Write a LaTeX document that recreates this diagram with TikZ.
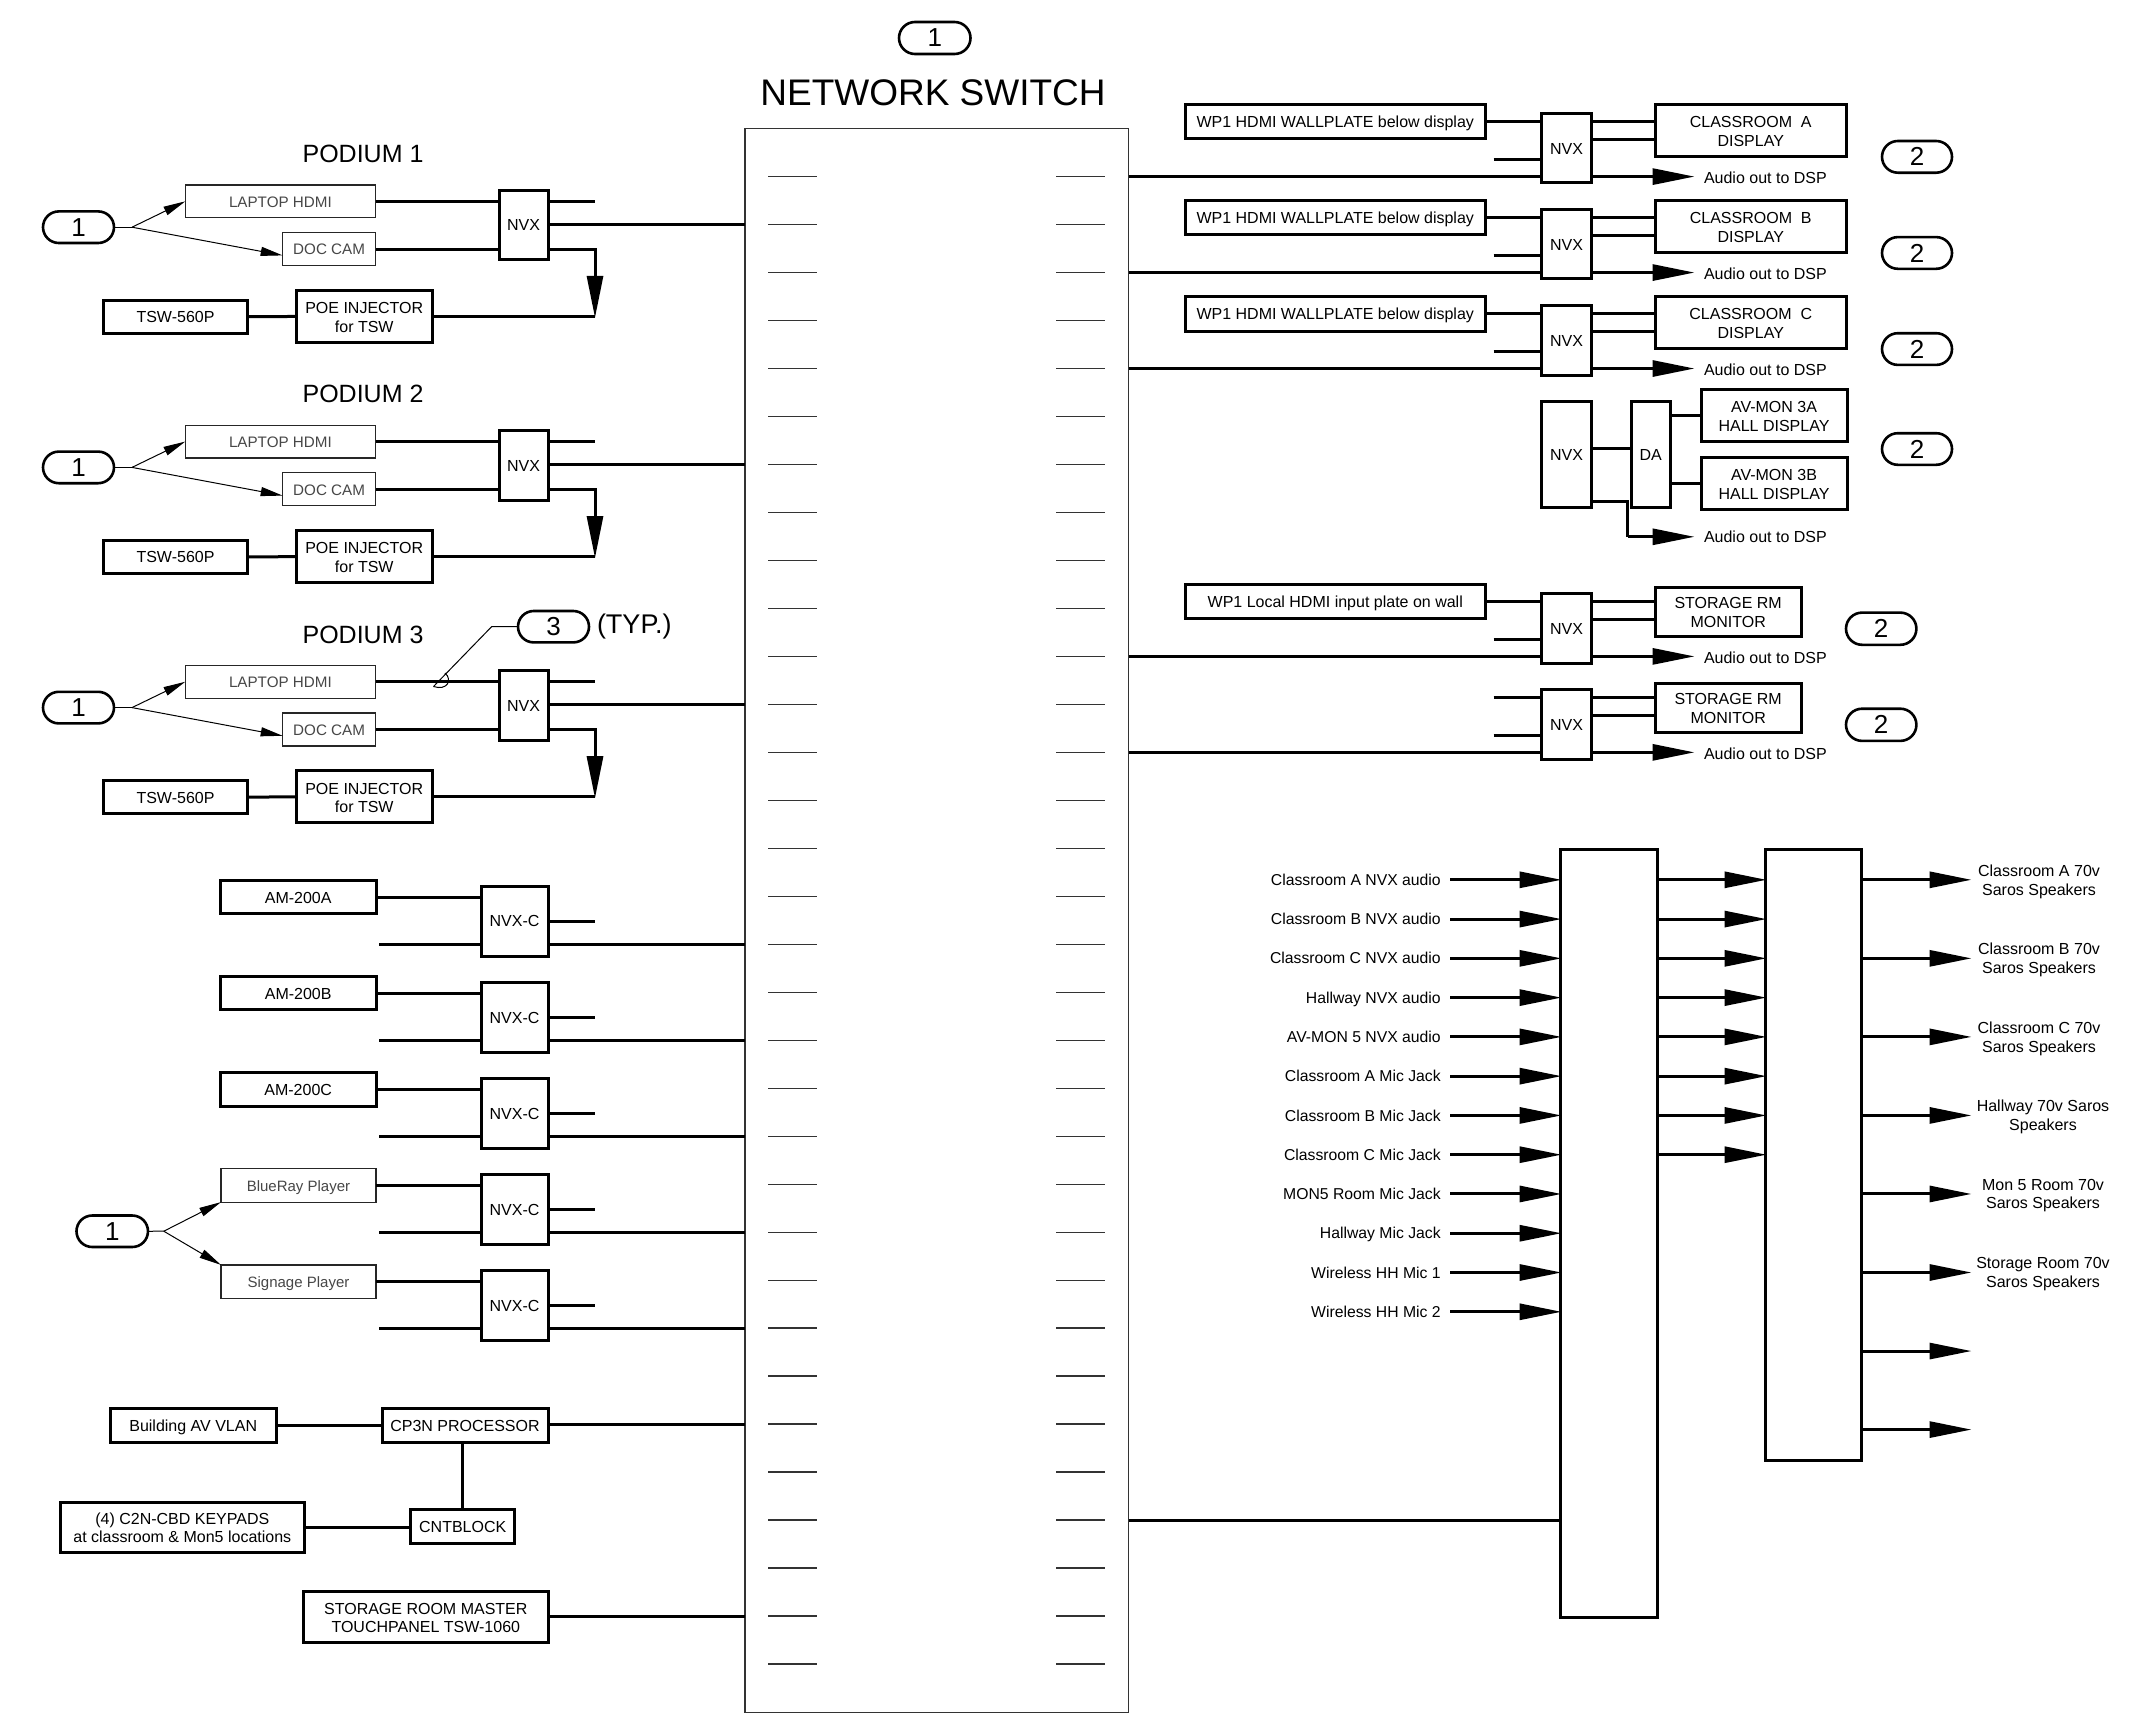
\documentclass[tikz,border=0pt]{standalone}
\usepackage{fontspec}
\setmainfont{Liberation Sans}
\usetikzlibrary{arrows.meta,shapes.misc}
\newcommand{\fs}[1]{\fontsize{#1}{#1}\selectfont}
\newcommand{\strutone}{\rule[-3.5pt]{0pt}{18.8pt}}
\newcommand{\struttwo}{\rule{0pt}{13pt}}
\newcommand{\bx}[7]{%
 \pgfmathsetmacro\cx{(#3+#5)/2}\pgfmathsetmacro\cy{(#4+#6)/2}%
 \pgfmathsetmacro\ww{#5-(#3)}\pgfmathsetmacro\hh{#6-(#4)}%
 \node[#1,minimum width=\ww pt,minimum height=\hh pt] (#2) at (\cx,\cy) {#7};}
\tikzset{
 basebox/.style={inner sep=0pt,outer sep=0pt,align=center,font=\fs{16}},
 hbox/.style={basebox,draw,line width=3pt},
 mbox/.style={basebox,draw,line width=3pt},
 lbox/.style={basebox,draw=black!85,line width=1.2pt,text=black!72,font=\fs{15.2}},
 tagpill/.style={basebox,draw,rounded rectangle,line width=2.6pt,font=\fs{26}},
 wire/.style={line width=3pt},
 mwire/.style={line width=3pt},
 hair/.style={line width=1pt},
 bighead/.style={-{Triangle[length=42pt,width=16pt]},shorten >=-1.5pt},
 smallhead/.style={-{Triangle[length=22pt,width=9pt]}},
 txt/.style={inner sep=0pt,outer sep=0pt,align=center,font=\fs{16}},
 headtxt/.style={inner sep=0pt,outer sep=0pt,font=\fs{25}},
}
\begin{document}
\begin{tikzpicture}[x=1pt,y=-1pt]
\useasboundingbox (0,0) rectangle (2139,1729);
\fill[white] (0,0) rectangle (2139,1729);
% switch
\bx{basebox,draw=black!80,line width=1.6pt}{sw}{744.7}{128.5}{1128.6}{1712.5}{}
\bx{tagpill}{tagtop}{899}{22}{970.5}{54}{1}
\node[headtxt,font=\fs{37}] (swtitle) at (933,93) {NETWORK SWITCH};
\foreach \n in {0,...,31}{
 \pgfmathsetmacro\yy{176.6+47.98*\n}
 \coordinate (L\n) at (744.7,\yy);
 \coordinate (R\n) at (1128.6,\yy);
 \coordinate (la\n) at (768.3,\yy);
 \coordinate (lb\n) at (817,\yy);
 \coordinate (ra\n) at (1056,\yy);
 \coordinate (rb\n) at (1105,\yy);
 \draw[line width=1.3pt,black!80] (la\n) -- (lb\n);
 \draw[line width=1.3pt,black!80] (ra\n) -- (rb\n);
}
% podiums
\foreach \i/\dd/\p in {1/0/1,2/240.2/6,3/480.4/11}{
 \pgfmathsetmacro\ty{154+\dd}
 \node[headtxt] (title\i) at (363,\ty) {PODIUM \i};
 \bx{lbox}{lap\i}{185.3}{185+\dd}{375.5}{217.7+\dd}{\strutone LAPTOP HDMI}
 \bx{lbox}{doc\i}{282.7}{232.5+\dd}{375.5}{265.5+\dd}{\strutone DOC CAM}
 \bx{tagpill}{tag\i}{43}{211.4+\dd}{114}{243+\dd}{1}
 \bx{mbox}{nvx\i}{499}{190+\dd}{548}{259.8+\dd}{\strutone NVX}
 \bx{hbox}{poe\i}{296.5}{290.4+\dd}{432}{342.5+\dd}{\struttwo POE INJECTOR\\[2.5pt]for TSW}
 \bx{hbox}{tsw\i}{103.5}{300+\dd}{247.5}{333.4+\dd}{\strutone TSW-560P}
 \pgfmathsetmacro\fy{227.2+\dd}\coordinate (fan\i) at (132,\fy);
 \pgfmathsetmacro\fy{255.4+\dd}\coordinate (dt\i) at (282.7,\fy);
 \pgfmathsetmacro\fy{316.3+\dd}\coordinate (st\i) at (595,\fy);
 \draw[hair] (tag\i.east) -- (fan\i);
 \draw[hair,smallhead] (fan\i) -- (lap\i.west);
 \draw[hair,smallhead] (fan\i) -- (dt\i);
 \draw[mwire] (lap\i.east) -- (lap\i.east -| nvx\i.west);
 \draw[mwire] (doc\i.east) -- (doc\i.east -| nvx\i.west);
 \draw[mwire] (lap\i.east -| nvx\i.east) -- (lap\i.east -| st\i);
 \draw[mwire] (nvx\i.east |- L\p) -- (L\p);
 \draw[mwire,bighead] (doc\i.east -| nvx\i.east) -| (st\i);
 \draw[mwire] (poe\i.east) -- (poe\i.east -| st\i);
 \draw[wire] (tsw\i.east) -- (poe\i.west);
}
% tag 3
\bx{tagpill}{tagc}{518}{611}{589}{642.4}{3}
\node[headtxt,anchor=west,font=\fs{27}] (typ) at (597,627) {(TYP.)};
\coordinate (ldk) at (491.7,626.6);
\coordinate (lde) at (433.5,686.5);
\coordinate (arca) at (445,673);
\draw[hair] (tagc.west) -- (ldk) -- (lde);
\draw[hair] (arca) .. controls (453,680) and (447,691) .. (lde);
% AM / players
\foreach \k/\nm/\p in {0/AM-200A/16,1/AM-200B/18,2/AM-200C/20}{
 \pgfmathsetmacro\dd{96.1*\k}
 \bx{hbox}{am\k}{220.4}{880.5+\dd}{376}{913.8+\dd}{\strutone\nm}
 \bx{mbox}{nc\k}{481}{886+\dd}{548}{956+\dd}{\strutone NVX-C}
 \pgfmathsetmacro\fy{921+\dd}\coordinate (ns\k) at (595,\fy);
 \coordinate (ni\k) at (379,0);
 \draw[mwire] (am\k.east) -- (am\k.east -| nc\k.west);
 \draw[mwire] (nc\k.east |- ns\k) -- (ns\k);
 \draw[mwire] (ni\k |- L\p) -- (nc\k.west |- L\p);
 \draw[mwire] (nc\k.east |- L\p) -- (L\p);
}
\foreach \k/\nm/\p in {3/BlueRay Player/22,4/Signage Player/24}{
 \pgfmathsetmacro\dd{96.1*\k}
 \bx{lbox,font=\fs{15}}{am\k}{221}{880.5+\dd}{376}{913.8+\dd}{\strutone\nm}
 \bx{mbox}{nc\k}{481}{886+\dd}{548}{956+\dd}{\strutone NVX-C}
 \pgfmathsetmacro\fy{921+\dd}\coordinate (ns\k) at (595,\fy);
 \coordinate (ni\k) at (379,0);
 \draw[mwire] (am\k.east) -- (am\k.east -| nc\k.west);
 \draw[mwire] (nc\k.east |- ns\k) -- (ns\k);
 \draw[mwire] (ni\k |- L\p) -- (nc\k.west |- L\p);
 \draw[mwire] (nc\k.east |- L\p) -- (L\p);
}
\bx{tagpill}{tagp}{76.5}{1215.5}{148}{1247}{1}
\coordinate (fanp) at (163.8,1231.2);
\draw[hair] (tagp.east) -- (fanp);
\draw[hair,smallhead] (fanp) -- (am3.south west);
\draw[hair,smallhead] (fanp) -- (am4.north west);
% processor
\bx{hbox}{vlan}{110}{1408.8}{276.5}{1442}{\strutone Building AV VLAN}
\bx{hbox}{cp}{382}{1408.8}{548}{1442}{\strutone CP3N PROCESSOR}
\bx{hbox}{cnt}{410.7}{1509.7}{514.8}{1543.5}{\strutone CNTBLOCK}
\bx{hbox}{kp}{60}{1502}{304.6}{1552.4}{\struttwo (4) C2N-CBD KEYPADS\\[2pt]at classroom \& Mon5 locations}
\bx{hbox}{tp}{303.6}{1591.7}{548}{1642.7}{\struttwo STORAGE ROOM MASTER\\[2pt]TOUCHPANEL TSW-1060}
\draw[mwire] (vlan.east) -- (cp.west);
\draw[mwire] (cp.east |- L26) -- (L26);
\draw[mwire] (cnt.north) -- (cnt.north |- cp.south);
\draw[mwire] (kp.east) -- (kp.east -| cnt.west);
\draw[mwire] (tp.east |- L30) -- (L30);
% right displays
\foreach \k/\ltr/\p in {0/A/0,1/B/2,2/C/4}{
 \pgfmathsetmacro\dd{96.1*\k}
 \bx{hbox}{wp\k}{1185.5}{104.3+\dd}{1485}{138.8+\dd}{\strutone WP1 HDMI WALLPLATE below display}
 \bx{mbox}{rn\k}{1541.3}{113.5+\dd}{1591.7}{182.8+\dd}{\strutone NVX}
 \bx{hbox}{cr\k}{1655.3}{104.3+\dd}{1846.2}{156.7+\dd}{\struttwo CLASSROOM\ \ \ltr\\[3pt]DISPLAY}
 \bx{tagpill}{rt\k}{1882}{141+\dd}{1952}{172.7+\dd}{2}
 \pgfmathsetmacro\fy{121.3+\dd}\coordinate (u\k) at (1591.7,\fy);
 \pgfmathsetmacro\fy{139.2+\dd}\coordinate (v\k) at (1591.7,\fy);
 \pgfmathsetmacro\fy{159.4+\dd}\coordinate (w\k) at (1493.6,\fy);
 \coordinate (tip\k) at (1693,0);
 \pgfmathsetmacro\fy{177.3+\dd}
 \node[txt,anchor=west] (au\k) at (1704,\fy) {Audio out to DSP};
 \draw[mwire] (wp\k.east |- u\k) -- (rn\k.west |- u\k);
 \draw[mwire] (rn\k.east |- u\k) -- (cr\k.west |- u\k);
 \draw[mwire] (v\k) -- (cr\k.west |- v\k);
 \draw[mwire] (w\k) -- (rn\k.west |- w\k);
 \draw[mwire] (R\p) -- (rn\k.west |- R\p);
 \draw[mwire,bighead] (rn\k.east |- R\p) -- (tip\k |- R\p);
}
% hallway
\bx{mbox}{hn}{1541.3}{401.4}{1591.7}{507.5}{\strutone NVX}
\bx{mbox}{da}{1631.5}{401.4}{1670}{507.5}{\strutone DA}
\bx{hbox}{av3a}{1701}{389.5}{1847}{441.8}{\struttwo AV-MON 3A\\[3pt]HALL DISPLAY}
\bx{hbox}{av3b}{1701}{457.4}{1847}{509.3}{\struttwo AV-MON 3B\\[3pt]HALL DISPLAY}
\bx{tagpill}{rth}{1882}{433.2}{1952}{464.8}{2}
\coordinate (hm) at (1591.7,448);
\coordinate (hd) at (1627.5,501);
\coordinate (hp) at (1627.5,536.8);
\coordinate (ha) at (1693,536.8);
\node[txt,anchor=west] (hau) at (1704,537.2) {Audio out to DSP};
\draw[mwire] (hm) -- (hm -| da.west);
\draw[mwire] (av3a.west) -- (av3a.west -| da.east);
\draw[mwire] (av3b.west) -- (av3b.west -| da.east);
\draw[mwire] (hn.east |- hd) -- (hd) -- (hp);
\draw[mwire,bighead] (hp) -- (ha);
% storage
\foreach \k/\p in {0/10,1/12}{
 \pgfmathsetmacro\dd{96.1*\k}
 \bx{mbox}{sn\k}{1541.3}{593.8+\dd}{1591.7}{663.6+\dd}{\strutone NVX}
 \bx{hbox}{sm\k}{1655.3}{587.8+\dd}{1801}{636.5+\dd}{STORAGE RM\\[3pt]MONITOR}
 \bx{tagpill}{stt\k}{1846}{612.6+\dd}{1916.4}{644.8+\dd}{2}
 \pgfmathsetmacro\fy{601.3+\dd}\coordinate (su\k) at (1591.7,\fy);
 \pgfmathsetmacro\fy{619.4+\dd}\coordinate (sv\k) at (1591.7,\fy);
 \pgfmathsetmacro\fy{639+\dd}\coordinate (swi\k) at (1493.6,\fy);
 \coordinate (stip\k) at (1693,0);
 \pgfmathsetmacro\fy{657.3+\dd}
 \node[txt,anchor=west] (sau\k) at (1704,\fy) {Audio out to DSP};
 \draw[mwire] (su\k) -- (sm\k.west |- su\k);
 \draw[mwire] (sv\k) -- (sm\k.west |- sv\k);
 \draw[mwire] (swi\k) -- (sn\k.west |- swi\k);
 \draw[mwire] (R\p) -- (sn\k.west |- R\p);
 \draw[mwire,bighead] (sn\k.east |- R\p) -- (stip\k |- R\p);
}
\bx{hbox}{lp}{1185.5}{584}{1485}{618.6}{\strutone WP1 Local HDMI input plate on wall}
\draw[mwire] (lp.east |- su0) -- (sn0.west |- su0);
\coordinate (sx) at (1493.6,697.5);
\draw[mwire] (sx) -- (sn1.west |- sx);
% DSP
\bx{hbox}{d1}{1560}{849.3}{1657}{1617.7}{}
\bx{hbox}{d2}{1765}{849.3}{1861}{1460}{}
\draw[mwire] (R28) -- (R28 -| d1.west);
\foreach \k/\nm in {0/Classroom A NVX audio,1/Classroom B NVX audio,2/Classroom C NVX audio,3/Hallway NVX audio,4/AV-MON 5 NVX audio,5/Classroom A Mic Jack,6/Classroom B Mic Jack,7/Classroom C Mic Jack,8/MON5 Room Mic Jack,9/Hallway Mic Jack,10/Wireless HH Mic 1,11/Wireless HH Mic 2}{
 \pgfmathsetmacro\yy{879.8+39.27*\k}
 \pgfmathsetmacro\by{\yy+5.6}
 \coordinate (ai\k) at (1450.3,\yy);
 \node[txt,anchor=base east,font=\fs{15.75}] (an\k) at (1440.7,\by) {\nm};
 \draw[mwire,bighead] (ai\k) -- (ai\k -| d1.west);
}
\foreach \k in {0,...,7}{
 \draw[mwire,bighead] (ai\k -| d1.east) -- (ai\k -| d2.west);
}
\foreach \k in {0,...,7}{
 \pgfmathsetmacro\yy{879.8+78.54*\k}
 \coordinate (ao\k) at (1970,\yy);
 \draw[mwire,bighead] (ao\k -| d2.east) -- (ao\k);
}
\node[txt] (ol0) at (2039,881.8) {Classroom A 70v\\[2.5pt]Saros Speakers};
\node[txt] (ol1) at (2039,960) {Classroom B 70v\\[2.5pt]Saros Speakers};
\node[txt] (ol2) at (2039,1039) {Classroom C 70v\\[2.5pt]Saros Speakers};
\node[txt] (ol3) at (2043,1117) {Hallway 70v Saros\\[2.5pt]Speakers};
\node[txt] (ol4) at (2043,1195.7) {Mon 5 Room 70v\\[2.5pt]Saros Speakers};
\node[txt] (ol5) at (2043,1274.3) {Storage Room 70v\\[2.5pt]Saros Speakers};
\end{tikzpicture}
\end{document}
